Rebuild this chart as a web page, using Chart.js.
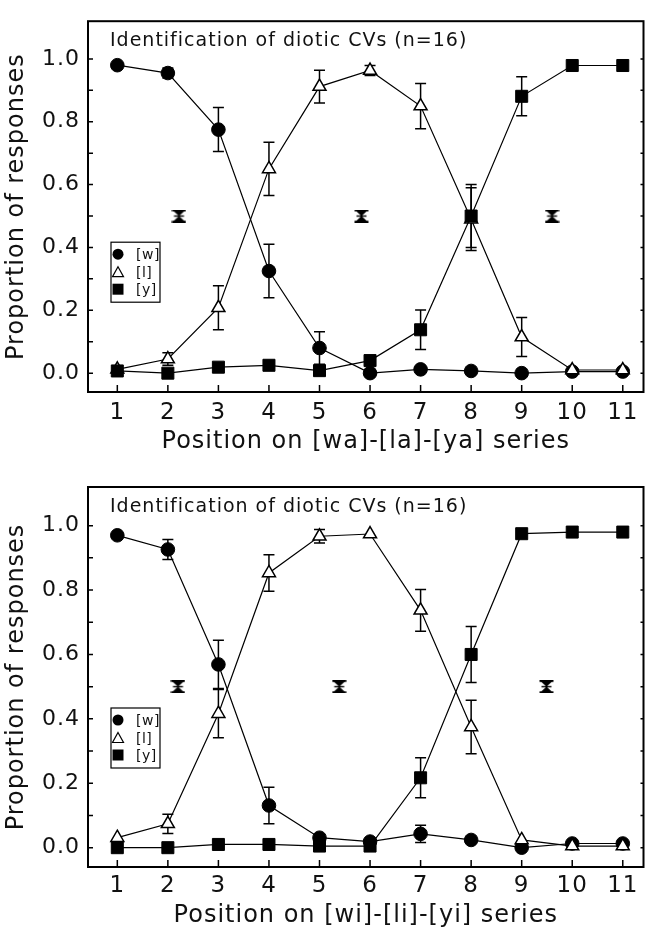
<!DOCTYPE html>
<html><head><meta charset="utf-8">
<script src="https://cdn.jsdelivr.net/npm/chart.js@4.4.0/dist/chart.umd.min.js"></script>
<style>
html,body{margin:0;padding:0;background:#fff;}
.wrap{position:absolute;left:0;width:653px;height:464px;}
canvas{display:block;}
</style></head><body>
<div class="wrap" style="top:0"><canvas id="c1" width="653" height="464"></canvas></div>
<div class="wrap" style="top:464px"><canvas id="c2" width="653" height="464"></canvas></div>
<script>
// ---------- data ----------
const positions = [1, 2, 3, 4, 5, 6, 7, 8, 9, 10, 11];
const xTickValues = [1, 2, 3, 4, 5, 6, 7, 8, 9, 10, 11];
const yLabelValues = [0, 0.2, 0.4, 0.6, 0.8, 1.0];
const yTickValues = [0, 0.1, 0.2, 0.3, 0.4, 0.5, 0.6, 0.7, 0.8, 0.9, 1.0];
const seriesLabels = ['[w]', '[l]', '[y]'];
const panelTitle = 'Identification of diotic CVs (n=16)';
const yAxisTitle = 'Proportion of responses';
const xAxisTitleA = 'Position on [wa]-[la]-[ya] series';
const xAxisTitleB = 'Position on [wi]-[li]-[yi] series';

// Panel A: [wa]-[la]-[ya]
const wA   = [0.980, 0.955, 0.775, 0.325, 0.080, 0.000, 0.012, 0.007, 0.000, 0.005, 0.005];
const wAse = [0, 0.016, 0.070, 0.085, 0.052, 0, 0, 0, 0, 0, 0];
const lA   = [0.012, 0.045, 0.208, 0.650, 0.912, 0.963, 0.850, 0.490, 0.115, 0.010, 0.010];
const lAse = [0.005, 0.020, 0.070, 0.085, 0.052, 0.016, 0.072, 0.100, 0.062, 0, 0];
const yA   = [0.007, 0.000, 0.019, 0.025, 0.008, 0.040, 0.138, 0.500, 0.881, 0.979, 0.979];
const yAse = [0, 0, 0, 0, 0, 0, 0.063, 0.100, 0.062, 0, 0];
const crossA = [2.22, 5.83, 9.6];

// Panel B: [wi]-[li]-[yi]
const wB   = [0.970, 0.926, 0.569, 0.131, 0.031, 0.019, 0.043, 0.024, 0.000, 0.013, 0.013];
const wBse = [0, 0.031, 0.075, 0.057, 0.010, 0, 0.027, 0, 0, 0, 0];
const lB   = [0.031, 0.074, 0.416, 0.853, 0.967, 0.974, 0.737, 0.375, 0.024, 0.005, 0.005];
const lBse = [0, 0.030, 0.075, 0.057, 0.021, 0, 0.065, 0.083, 0, 0, 0];
const yB   = [0.000, 0.000, 0.010, 0.010, 0.005, 0.005, 0.217, 0.600, 0.975, 0.980, 0.980];
const yBse = [0, 0, 0, 0, 0, 0, 0.062, 0.087, 0, 0, 0];
const crossB = [2.20, 5.39, 9.49];
const crossLevel = [0.5, 0.5, 0.5];

// ---------- styling ----------
const FONT = "'DejaVu Sans', sans-serif";
const INK = '#111';

const hourglass = (function () {
  const c = document.createElement('canvas');
  c.width = 15; c.height = 13;
  const g = c.getContext('2d');
  g.fillStyle = '#000';
  g.fillRect(0.5, 0, 14, 1.8);
  g.fillRect(0.5, 11.2, 14, 1.8);
  g.beginPath(); g.moveTo(1.5, 1); g.lineTo(13.5, 1); g.lineTo(7.5, 6.5); g.closePath(); g.fill();
  g.beginPath(); g.moveTo(1.5, 12); g.lineTo(13.5, 12); g.lineTo(7.5, 6.5); g.closePath(); g.fill();
  g.fillRect(2.5, 5.8, 10, 1.4);
  return c;
})();

const spacingPlugin = {
  id: 'spacing',
  beforeUpdate(chart) { chart.ctx.letterSpacing = '1px'; },
  beforeDraw(chart) { chart.ctx.letterSpacing = '1px'; }
};

const errorBarPlugin = {
  id: 'errorBars',
  beforeDatasetsDraw(chart) {
    const ctx = chart.ctx, ys = chart.scales.y;
    ctx.save();
    ctx.strokeStyle = '#000';
    ctx.lineWidth = 1.5;
    chart.data.datasets.forEach((ds, i) => {
      if (!ds.errors) return;
      const meta = chart.getDatasetMeta(i);
      meta.data.forEach((pt, j) => {
        const e = ds.errors[j];
        if (!e) return;
        const v = ds.data[j].y;
        const top = ys.getPixelForValue(v + e), bot = ys.getPixelForValue(v - e);
        const x = pt.x;
        ctx.beginPath();
        ctx.moveTo(x, top); ctx.lineTo(x, bot);
        ctx.moveTo(x - 5.5, top); ctx.lineTo(x + 5.5, top);
        ctx.moveTo(x - 5.5, bot); ctx.lineTo(x + 5.5, bot);
        ctx.stroke();
      });
    });
    ctx.restore();
  }
};

const framePlugin = {
  id: 'frame',
  afterDraw(chart) {
    const ctx = chart.ctx, a = chart.chartArea;
    const xs = chart.scales.x, ys = chart.scales.y;
    ctx.save();
    ctx.strokeStyle = '#000';
    ctx.lineWidth = 2;
    ctx.strokeRect(a.left, a.top, a.right - a.left, a.bottom - a.top);
    ctx.lineWidth = 1.5;
    ctx.beginPath();
    xTickValues.forEach(v => {
      const px = xs.getPixelForValue(v);
      ctx.moveTo(px, a.bottom); ctx.lineTo(px, a.bottom - 7);
    });
    yTickValues.forEach(v => {
      const py = ys.getPixelForValue(v);
      ctx.moveTo(a.left, py); ctx.lineTo(a.left + 5, py);
      ctx.moveTo(a.right, py); ctx.lineTo(a.right - 3, py);
    });
    ctx.stroke();

    // panel title
    ctx.letterSpacing = '1px';
    ctx.fillStyle = INK;
    ctx.font = "19px " + FONT;
    ctx.textBaseline = 'middle';
    ctx.textAlign = 'left';
    ctx.fillText(panelTitle, a.left + 22, a.top + 20);

    // legend
    const bx = a.left + 23, by = a.top + 221, bw = 49, bh = 60;
    ctx.lineWidth = 1.2;
    ctx.strokeRect(bx, by, bw, bh);
    ctx.letterSpacing = '0.5px';
    ctx.font = "14px " + FONT;
    const rows = [12, 30, 47];
    chart.data.datasets.slice(0, 3).forEach((ds, k) => {
      const cy = by + rows[k], cx = bx + 7;
      ctx.beginPath();
      ctx.fillStyle = '#000';
      ctx.strokeStyle = '#000';
      ctx.lineWidth = 1.2;
      if (ds.pointStyle === 'circle') {
        ctx.arc(cx, cy, 5.5, 0, Math.PI * 2); ctx.fill();
      } else if (ds.pointStyle === 'triangle') {
        ctx.moveTo(cx, cy - 5.5); ctx.lineTo(cx + 5.5, cy + 4.5); ctx.lineTo(cx - 5.5, cy + 4.5); ctx.closePath();
        ctx.fillStyle = '#fff'; ctx.fill(); ctx.stroke();
      } else {
        ctx.rect(cx - 5.5, cy - 5.5, 11, 11); ctx.fill();
      }
      ctx.fillStyle = INK;
      ctx.fillText(ds.label, bx + 25, cy + 1);
    });
    ctx.restore();
  }
};

function series(vals) { return positions.map((x, i) => ({ x: x, y: vals[i] })); }

function makePanel(id, w, wse, l, lse, y, yse, cross, xTitle, geom) {
  const datasets = [
    { label: seriesLabels[0], data: series(w), errors: wse, showLine: true,
      borderColor: '#000', borderWidth: 1.2, pointStyle: 'circle', pointRadius: 6.8,
      pointBackgroundColor: '#000', pointBorderColor: '#000', pointBorderWidth: 1, order: 2 },
    { label: seriesLabels[1], data: series(l), errors: lse, showLine: true,
      borderColor: '#000', borderWidth: 1.2, pointStyle: 'triangle', pointRadius: 7.5,
      pointBackgroundColor: '#fff', pointBorderColor: '#000', pointBorderWidth: 1.5, order: 1 },
    { label: seriesLabels[2], data: series(y), errors: yse, showLine: true,
      borderColor: '#000', borderWidth: 1.2, pointStyle: 'rect', pointRadius: 8.5,
      pointBackgroundColor: '#000', pointBorderColor: '#000', pointBorderWidth: 1, order: 0 },
    { label: 'crossover', data: cross.map((x, i) => ({ x: x, y: crossLevel[i] })), showLine: false,
      pointStyle: hourglass, pointRadius: 7, order: 3 }
  ];
  return new Chart(document.getElementById(id), {
    type: 'scatter',
    data: { datasets: datasets },
    plugins: [spacingPlugin, errorBarPlugin, framePlugin],
    options: {
      responsive: false, animation: false, devicePixelRatio: 1,
      layout: { padding: { top: geom.top, right: 1, left: 0, bottom: 0 } },
      plugins: { legend: { display: false }, tooltip: { enabled: false } },
      elements: { line: { tension: 0 } },
      scales: {
        x: {
          type: 'linear', min: 0.42, max: 11.41,
          grid: { display: false, drawTicks: false }, border: { display: false },
          afterBuildTicks: s => { s.ticks = xTickValues.map(v => ({ value: v })); },
          afterFit: s => { s.height = geom.xh; },
          ticks: { font: { family: FONT, size: 23 }, color: INK, padding: geom.xpad,
                   maxRotation: 0, autoSkip: false, callback: v => String(v) },
          title: { display: true, text: xTitle, color: INK,
                   font: { family: FONT, size: 24, lineHeight: 1 }, padding: { top: 0, bottom: geom.tpb } }
        },
        y: {
          min: -0.06, max: 1.12,
          grid: { display: false, drawTicks: false }, border: { display: false },
          afterBuildTicks: s => { s.ticks = yLabelValues.map(v => ({ value: v })); },
          afterFit: s => { s.width = 88; },
          ticks: { font: { family: FONT, size: 22 }, color: INK, padding: 8, callback: v => v.toFixed(1) },
          title: { display: true, text: yAxisTitle, color: INK,
                   font: { family: FONT, size: 24, lineHeight: 1 }, padding: { top: 5, bottom: 0 } }
        }
      }
    }
  });
}

makePanel('c1', wA, wAse, lA, lAse, yA, yAse, crossA, xAxisTitleA, { top: 12, xh: 72, xpad: 7, tpb: 10 });
makePanel('c2', wB, wBse, lB, lBse, yB, yBse, crossB, xAxisTitleB, { top: 23, xh: 61, xpad: 5, tpb: 0 });
</script>
</body></html>
